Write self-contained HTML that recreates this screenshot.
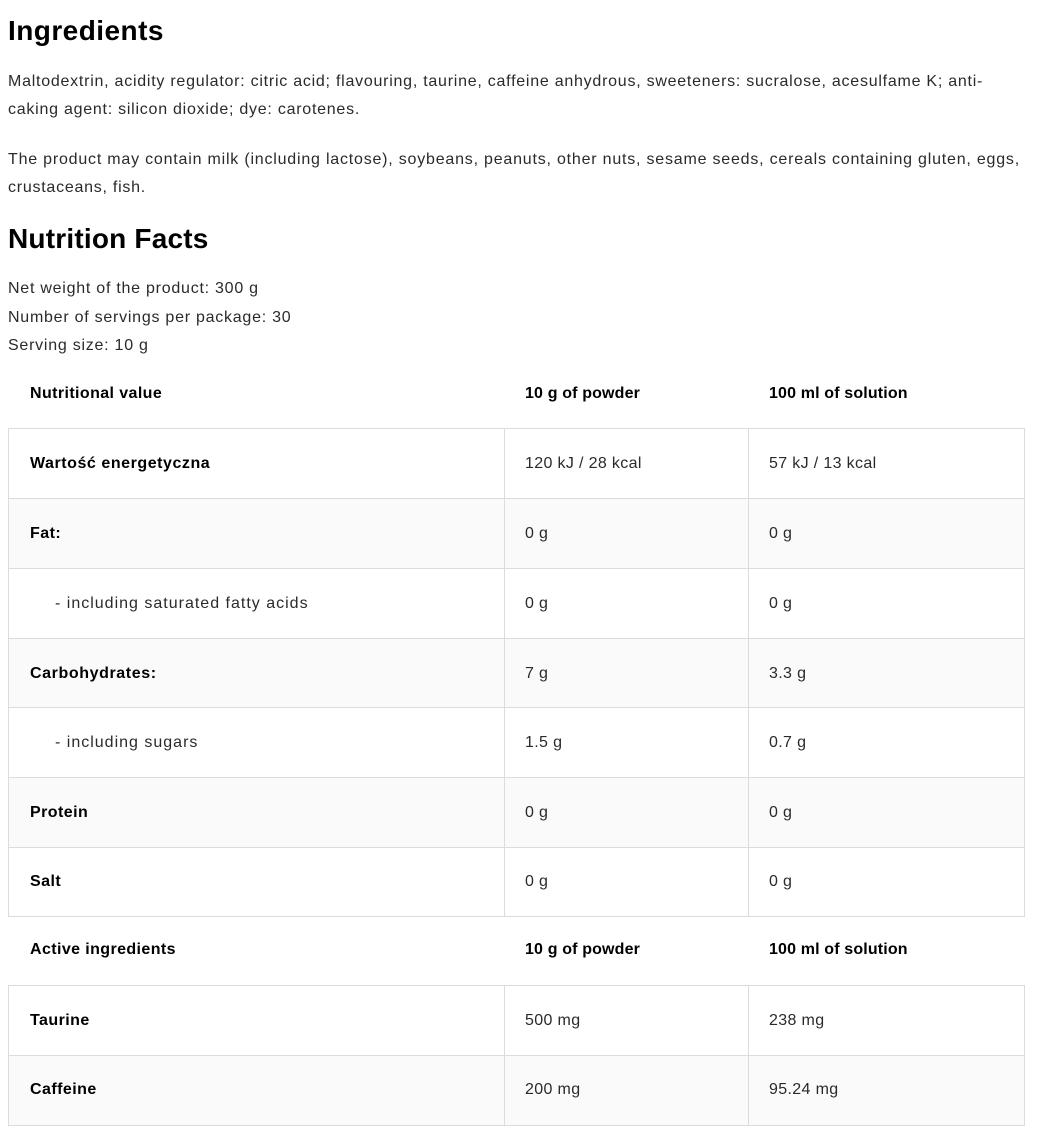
<!DOCTYPE html>
<html>
<head>
<meta charset="utf-8">
<style>
  html, body { margin:0; padding:0; background:#fff; }
  body { width:1042px; height:1142px; position:relative; overflow:hidden;
         font-family:"Liberation Sans", Arial, sans-serif; color:#222; }
  .t { position:absolute; white-space:nowrap; font-size:16px; line-height:20px; }
  .h { position:absolute; white-space:nowrap; font-size:28px; line-height:34px; font-weight:bold; color:#000; letter-spacing:0.45px; }
  .body { letter-spacing:0.75px; color:#2a2a2a; }
  .b { font-weight:bold; color:#000; letter-spacing:0.45px; }
  .v { color:#2a2a2a; letter-spacing:0.35px; }
  .vi { color:#2a2a2a; letter-spacing:1px; }
  .row { position:absolute; left:8px; width:1017px; box-sizing:border-box; border:1px solid #dcdcdc; }
  .g { background:#fafafa; }
  .vl { position:absolute; width:1px; background:#dcdcdc; }
</style>
</head>
<body>

<div class="h" style="left:8px; top:14px;">Ingredients</div>

<div class="t body" style="left:8px; top:71.5px;">Maltodextrin, acidity regulator: citric acid; flavouring, taurine, caffeine anhydrous, sweeteners: sucralose, acesulfame K; anti-</div>
<div class="t body" style="left:8px; top:99.5px;">caking agent: silicon dioxide; dye: carotenes.</div>

<div class="t body" style="left:8px; top:150px; letter-spacing:0.79px;">The product may contain milk (including lactose), soybeans, peanuts, other nuts, sesame seeds, cereals containing gluten, eggs,</div>
<div class="t body" style="left:8px; top:178px;">crustaceans, fish.</div>

<div class="h" style="left:8px; top:221.6px; letter-spacing:0.2px;">Nutrition Facts</div>

<div class="t body" style="left:8px; top:278.8px;">Net weight of the product: 300 g</div>
<div class="t body" style="left:8px; top:307.5px;">Number of servings per package: 30</div>
<div class="t body" style="left:8px; top:336px;">Serving size: 10 g</div>

<!-- Nutrition table header -->
<div class="t b" style="left:30px; top:383.8px; letter-spacing:0.4px;">Nutritional value</div>
<div class="t b" style="left:525px; top:383.8px; letter-spacing:0.15px;">10 g of powder</div>
<div class="t b" style="left:769px; top:383.8px; letter-spacing:0.15px;">100 ml of solution</div>

<!-- Nutrition rows -->
<div class="row" style="top:428px; height:71px;"></div>
<div class="row g" style="top:498px; height:71px;"></div>
<div class="row" style="top:568px; height:71px;"></div>
<div class="row g" style="top:638px; height:70px;"></div>
<div class="row" style="top:707px; height:71px;"></div>
<div class="row g" style="top:777px; height:71px;"></div>
<div class="row" style="top:847px; height:70px;"></div>
<div class="vl" style="left:504px; top:428px; height:489px;"></div>
<div class="vl" style="left:748px; top:428px; height:489px;"></div>

<div class="t b" style="left:30px; top:454px; letter-spacing:0.55px;">Wartość energetyczna</div>
<div class="t v" style="left:525px; top:454px;">120 kJ / 28 kcal</div>
<div class="t v" style="left:769px; top:454px;">57 kJ / 13 kcal</div>

<div class="t b" style="left:30px; top:524px;">Fat:</div>
<div class="t v" style="left:525px; top:524px;">0 g</div>
<div class="t v" style="left:769px; top:524px;">0 g</div>

<div class="t vi" style="left:55px; top:594px;">- including saturated fatty acids</div>
<div class="t v" style="left:525px; top:594px;">0 g</div>
<div class="t v" style="left:769px; top:594px;">0 g</div>

<div class="t b" style="left:30px; top:663.5px; letter-spacing:0.6px;">Carbohydrates:</div>
<div class="t v" style="left:525px; top:663.5px;">7 g</div>
<div class="t v" style="left:769px; top:663.5px;">3.3 g</div>

<div class="t vi" style="left:55px; top:733px;">- including sugars</div>
<div class="t v" style="left:525px; top:733px;">1.5 g</div>
<div class="t v" style="left:769px; top:733px;">0.7 g</div>

<div class="t b" style="left:30px; top:802.5px;">Protein</div>
<div class="t v" style="left:525px; top:802.5px;">0 g</div>
<div class="t v" style="left:769px; top:802.5px;">0 g</div>

<div class="t b" style="left:30px; top:872px;">Salt</div>
<div class="t v" style="left:525px; top:872px;">0 g</div>
<div class="t v" style="left:769px; top:872px;">0 g</div>

<!-- Active ingredients header -->
<div class="t b" style="left:30px; top:940.2px; letter-spacing:0.4px;">Active ingredients</div>
<div class="t b" style="left:525px; top:940.2px; letter-spacing:0.15px;">10 g of powder</div>
<div class="t b" style="left:769px; top:940.2px; letter-spacing:0.15px;">100 ml of solution</div>

<div class="row" style="top:985px; height:71px;"></div>
<div class="row g" style="top:1055px; height:71px;"></div>
<div class="vl" style="left:504px; top:985px; height:141px;"></div>
<div class="vl" style="left:748px; top:985px; height:141px;"></div>

<div class="t b" style="left:30px; top:1010.5px;">Taurine</div>
<div class="t v" style="left:525px; top:1010.5px;">500 mg</div>
<div class="t v" style="left:769px; top:1010.5px;">238 mg</div>

<div class="t b" style="left:30px; top:1080px;">Caffeine</div>
<div class="t v" style="left:525px; top:1080px;">200 mg</div>
<div class="t v" style="left:769px; top:1080px;">95.24 mg</div>

</body>
</html>
